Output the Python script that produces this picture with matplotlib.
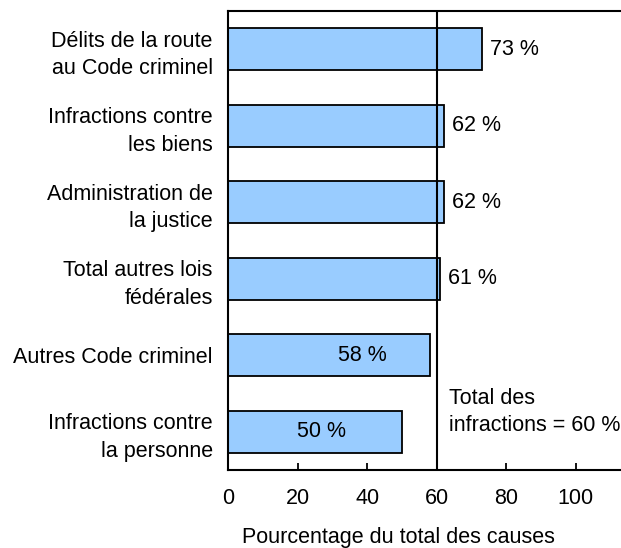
import matplotlib
matplotlib.use("Agg")
import matplotlib.pyplot as plt

categories = ["Délits de la route\nau Code criminel",
              "Infractions contre\nles biens",
              "Administration de\nla justice",
              "Total autres lois\nfédérales",
              "Autres Code criminel",
              "Infractions contre\nla personne"]
values = [73, 62, 62, 61, 58, 50]
value_labels = ["73 %", "62 %", "62 %", "61 %", "58 %", "50 %"]
inside = [False, False, False, False, True, True]
inside_x = [None, None, None, None, 38.5, 27]
total = 60
xticks = [0, 20, 40, 60, 80, 100]

plt.rcParams['font.family'] = ['Liberation Sans', 'DejaVu Sans']
FS = 15.5

fig = plt.figure(figsize=(6.21, 5.48), dpi=100)
ax = fig.add_axes([228/621, 78/548, (621-228)/621, (470-11)/548])

y = list(range(len(categories)))
ax.barh(y, values, height=0.55, color="#99CCFF", edgecolor="black", linewidth=1.3, zorder=2)
ax.set_ylim(len(categories) - 0.5, -0.5)
ax.set_xlim(0, 113)

ax.axvline(total, color="black", linewidth=1.5, zorder=3)

for i, (v, lab) in enumerate(zip(values, value_labels)):
    if inside[i]:
        ax.text(inside_x[i], i, lab, ha="center", va="center", fontsize=FS, zorder=4)
    else:
        ax.text(v + 2.3, i, lab, ha="left", va="center", fontsize=FS, zorder=4)

ax.text(63.5, 4.74, "Total des\ninfractions = 60 %", ha="left", va="center",
        fontsize=FS, linespacing=1.4)

ax.set_yticks(y)
ax.set_yticklabels(categories, fontsize=FS, linespacing=1.4)
ax.tick_params(axis="y", length=0, pad=11)
ax.set_xticks(xticks)
ax.set_xticklabels([str(t) for t in xticks], fontsize=FS)
ax.tick_params(axis="x", direction="in", length=5, width=1.3, pad=13)
ax.set_xlabel("Pourcentage du total des causes", fontsize=FS, labelpad=14)
ax.xaxis.set_label_coords(0.433, -0.147)
ax.xaxis.label.set_va("center")

for s in ["left", "bottom", "top"]:
    ax.spines[s].set_linewidth(1.5)
ax.spines["right"].set_visible(False)

fig.savefig("out.png", dpi=100)
